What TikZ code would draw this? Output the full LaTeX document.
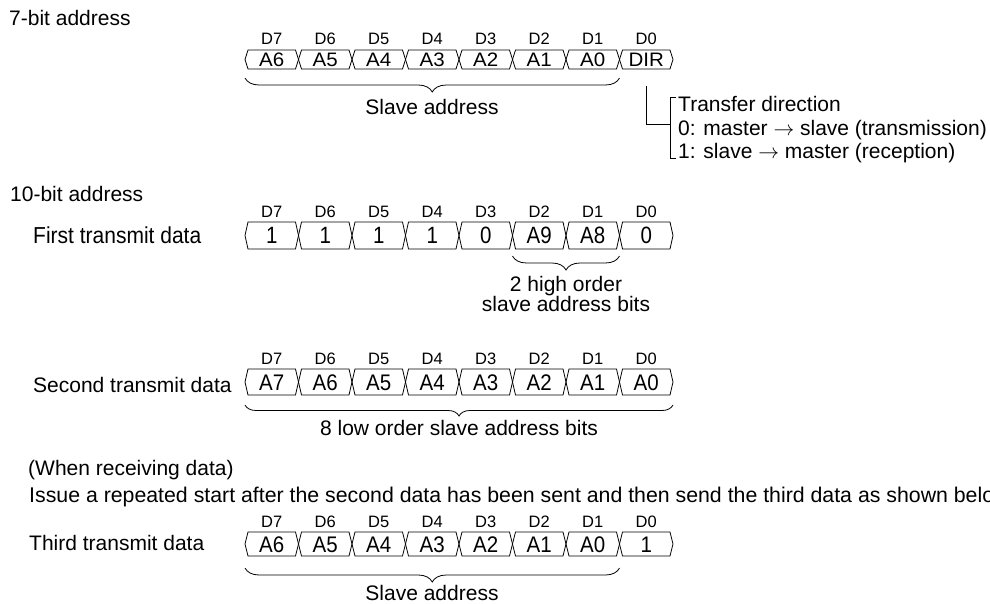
\documentclass[tikz,border=0pt]{standalone}
\usepackage{fontspec}
\setmainfont{Liberation Sans}
\usetikzlibrary{decorations.pathreplacing}
\tikzset{
  bus/.style={draw=black, line width=0.8pt, line join=miter},
  conn/.style={draw=black, line width=0.8pt},
  celltxt/.style={inner sep=0pt, anchor=base, font=\fontsize{20.5}{24}\selectfont},
  dlab/.style={inner sep=0pt, anchor=base, font=\fontsize{16.5}{19}\selectfont},
  txt/.style={inner sep=0pt, anchor=base west, font=\fontsize{21}{25}\selectfont},
  ctxt/.style={inner sep=0pt, anchor=base, font=\fontsize{21}{25}\selectfont},
  brc/.style={draw=black, line width=0.8pt, decorate, decoration={brace, mirror, amplitude=#1}},
}
% #1 name, #2 top, #3 bottom, #4 vertical text scale, #5 labels
\newcommand\busrow[5]{%
  \foreach \lab [count=\i from 0] in {#5} {
    \pgfmathsetmacro\xl{245+53.5*\i}
    \pgfmathsetmacro\xr{245+53.5*(\i+1)}
    \pgfmathsetmacro\ym{(#2+#3)/2}
    \pgfmathtruncatemacro\bit{7-\i}
    \draw[bus] (\xl,\ym) -- (\xl+3,#2) -- (\xr-3,#2) -- (\xr,\ym) -- (\xr-3,#3) -- (\xl+3,#3) -- cycle;
    \node[celltxt] (#1c\i) at ({(\xl+\xr)/2},\ym+7.3*#4) {\scalebox{1}[#4]{\lab}};
    \node[dlab] (#1d\i) at ({(\xl+\xr)/2},#2-5) {D\bit};
  }
}
\begin{document}
\begin{tikzpicture}[x=1pt,y=-1pt]
\useasboundingbox (0,0) rectangle (990,604);

% ---- 7-bit address
\node[txt] (t7bit) at (9,26) {7-bit address};
\busrow{ra}{50}{69}{0.95}{A6,A5,A4,A3,A2,A1,A0,DIR}
\coordinate (b1s) at (245,78);
\coordinate (b1e) at (619.5,78);
\draw[brc=14] (b1s) -- (b1e);
\node[ctxt] (sa1) at (432,115) {Slave address};

\coordinate (dA) at (646,86);
\coordinate (dB) at (670,124);
\draw[conn] (dA) |- (dB);
\coordinate (brT) at (676,97);
\coordinate (brB) at (676,158);
\draw[conn] (brT) -- ++(-6,0) |- (brB);
\node[txt] (td1) at (678,112) {Transfer direction};
\node[txt] (td2) at (678,136) {0: master $\rightarrow$ slave (transmission)};
\node[txt] (td3) at (678,159) {1: slave $\rightarrow$ master (reception)};

% ---- 10-bit address
\node[txt] (t10bit) at (10,201) {10-bit address};
\node[txt] (lab1) at (33,243) {\scalebox{1}[1.1]{First transmit data}};
\busrow{rb}{222}{249}{1.15}{1,1,1,1,0,A9,A8,0}
\coordinate (b2s) at (512.5,256);
\coordinate (b2e) at (619.5,256);
\draw[brc=14] (b2s) -- (b2e);
\node[ctxt] (hi1) at (566,291) {2 high order};
\node[ctxt] (hi2) at (566,311) {slave address bits};

\node[txt] (lab2) at (33,392) {Second transmit data};
\busrow{rc}{369}{395}{1.1}{A7,A6,A5,A4,A3,A2,A1,A0}
\coordinate (b3s) at (245,405);
\coordinate (b3e) at (673,405);
\draw[brc=11] (b3s) -- (b3e);
\node[ctxt] (lo) at (459,435) {8 low order slave address bits};

% ---- receiving
\node[txt] (recv) at (28,475) {(When receiving data)};
\node[txt, font=\fontsize{21.3}{25}\selectfont] (issue) at (29,502) {Issue a repeated start after the second data has been sent and then send the third data as shown below.};
\node[txt] (lab3) at (29,550) {Third transmit data};
\busrow{rd}{532}{556}{1.1}{A6,A5,A4,A3,A2,A1,A0,1}
\coordinate (b4s) at (245,568);
\coordinate (b4e) at (619.5,568);
\draw[brc=14] (b4s) -- (b4e);
\node[ctxt] (sa2) at (432,600) {Slave address};
\end{tikzpicture}
\end{document}
